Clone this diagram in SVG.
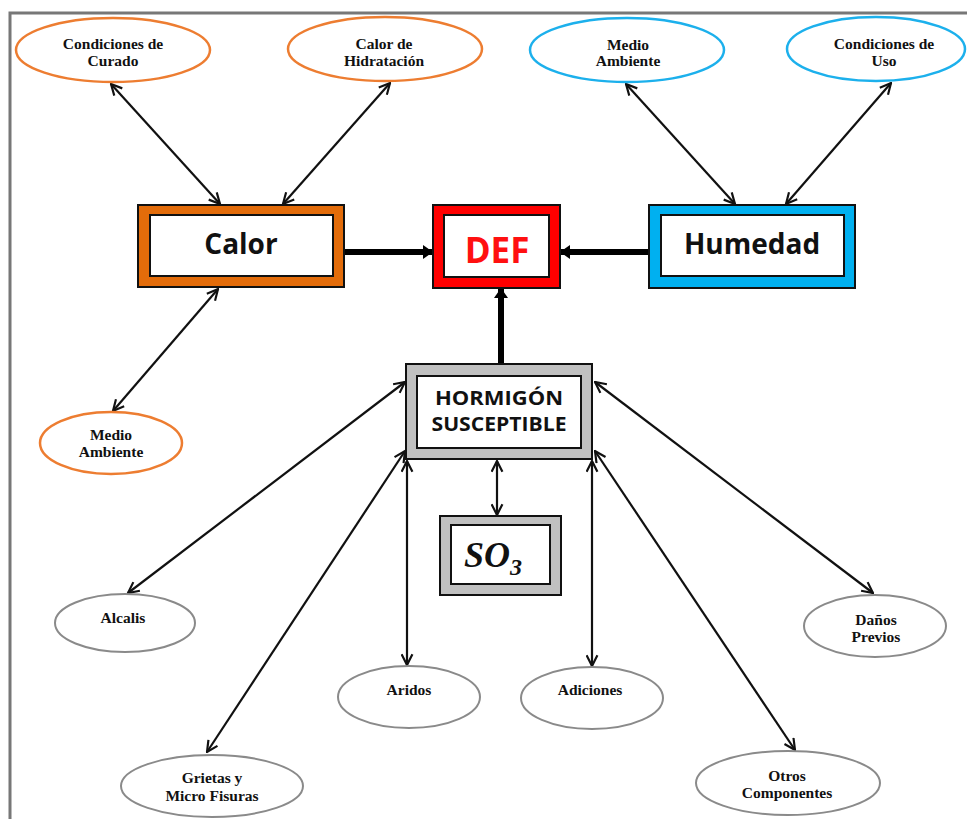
<svg xmlns="http://www.w3.org/2000/svg" width="967" height="819" viewBox="0 0 967 819">
<defs>
<style>
.el{fill:#fff;stroke-width:2.5}
.or{stroke:#ED7D31}
.bl{stroke:#1CB0EC}
.gr{stroke:#8a8a8a;stroke-width:2}
.et{font-family:"Liberation Serif","Times New Roman",serif;font-weight:bold;font-size:15.5px;fill:#111;text-anchor:middle}
.bt{font-family:"Open Sans","Liberation Sans",sans-serif;font-weight:bold;fill:#111;text-anchor:middle}
.bo{stroke:#111;stroke-width:2}
.inner{fill:#fff;stroke:#111;stroke-width:2}
.thin{stroke:#111;stroke-width:2.2;fill:none;marker-start:url(#ah);marker-end:url(#ah)}
.thick{stroke:#000;stroke-width:6;fill:none;marker-end:url(#th)}
</style>
<marker id="ah" viewBox="0 0 12 12" refX="11" refY="6" markerWidth="13" markerHeight="13" markerUnits="userSpaceOnUse" orient="auto-start-reverse">
<path d="M1,1 L11,6 L1,11" fill="none" stroke="#111" stroke-width="2"/>
</marker>
<marker id="th" viewBox="0 0 10 14" refX="9" refY="7" markerWidth="10" markerHeight="14" markerUnits="userSpaceOnUse" orient="auto">
<path d="M0,0 L10,7 L0,14 Z" fill="#000"/>
</marker>
</defs>
<rect width="967" height="819" fill="#fff"/>
<path d="M10,819 V13 H967" fill="none" stroke="#777" stroke-width="3"/>

<g id="connectors">
<line class="thin" x1="111" y1="84" x2="220" y2="204"/>
<line class="thin" x1="390" y1="83" x2="283" y2="204"/>
<line class="thin" x1="626" y1="84" x2="735" y2="204"/>
<line class="thin" x1="891" y1="83" x2="786" y2="204"/>
<line class="thin" x1="218" y1="289" x2="113" y2="411"/>
<line class="thick" x1="345" y1="252" x2="432" y2="252"/>
<line class="thick" x1="648" y1="252" x2="561" y2="252"/>
<line class="thick" x1="501" y1="363" x2="501" y2="289"/>
<line class="thin" x1="497" y1="461" x2="497" y2="515"/>
<line class="thin" x1="405" y1="382" x2="128" y2="593"/>
<line class="thin" x1="405" y1="451" x2="207" y2="752"/>
<line class="thin" x1="407" y1="461" x2="407" y2="665"/>
<line class="thin" x1="592" y1="461" x2="592" y2="666"/>
<line class="thin" x1="595" y1="382" x2="873" y2="593"/>
<line class="thin" x1="595" y1="451" x2="795" y2="750"/>
</g>

<g id="cond-curado">
<ellipse class="el or" cx="113" cy="50" rx="97" ry="32"/>
<text class="et" x="113" y="49">Condiciones de</text>
<text class="et" x="113" y="66">Curado</text>
</g>
<g id="calor-hidratacion">
<ellipse class="el or" cx="385" cy="49" rx="97" ry="32"/>
<text class="et" x="384" y="49">Calor de</text>
<text class="et" x="384" y="66">Hidratación</text>
</g>
<g id="medio-ambiente-h">
<ellipse class="el bl" cx="627" cy="50" rx="97" ry="32"/>
<text class="et" x="628" y="50">Medio</text>
<text class="et" x="628" y="66">Ambiente</text>
</g>
<g id="cond-uso">
<ellipse class="el bl" cx="876" cy="49" rx="89" ry="32"/>
<text class="et" x="884" y="49">Condiciones de</text>
<text class="et" x="884" y="66">Uso</text>
</g>

<g id="calor">
<rect class="bo" x="138" y="205" width="206" height="82" fill="#E36C0A"/>
<rect class="inner" x="150" y="215" width="183" height="61"/>
<text class="bt" x="241" y="254" font-size="28">Calor</text>
</g>
<g id="def">
<rect class="bo" x="433" y="205" width="127" height="83" fill="#FF0000"/>
<rect class="inner" x="444" y="215" width="105" height="62"/>
<text class="bt" x="497" y="263" font-size="35" style="fill:#FF1010">DEF</text>
</g>
<g id="humedad">
<rect class="bo" x="649" y="205" width="206" height="83" fill="#00B0F0"/>
<rect class="inner" x="661" y="215" width="183" height="61"/>
<text class="bt" x="752" y="254" font-size="28">Humedad</text>
</g>

<g id="medio-ambiente-c">
<ellipse class="el or" cx="111" cy="443" rx="71" ry="31"/>
<text class="et" x="111" y="440">Medio</text>
<text class="et" x="111" y="457">Ambiente</text>
</g>

<g id="hormigon">
<rect class="bo" x="406" y="364" width="186" height="95" fill="#C0C0C0"/>
<rect class="inner" x="417" y="376" width="164" height="72"/>
<text class="bt" x="499" y="405" font-size="19" textLength="128" lengthAdjust="spacingAndGlyphs">HORMIGÓN</text>
<text class="bt" x="499" y="431" font-size="19" textLength="135" lengthAdjust="spacingAndGlyphs">SUSCEPTIBLE</text>
</g>

<g id="so3">
<rect class="bo" x="440" y="516" width="121" height="79" fill="#C0C0C0"/>
<rect class="inner" x="451" y="525" width="99" height="59"/>
<text x="464" y="567" font-family="'Liberation Serif','DejaVu Serif',serif" font-style="italic" font-weight="bold" font-size="36" fill="#111">SO<tspan font-size="24" dy="8">3</tspan></text>
</g>

<g id="alcalis">
<ellipse class="el gr" cx="125" cy="623" rx="70" ry="29"/>
<text class="et" x="123" y="623">Alcalis</text>
</g>
<g id="aridos">
<ellipse class="el gr" cx="409" cy="697" rx="71" ry="31"/>
<text class="et" x="409" y="695">Aridos</text>
</g>
<g id="grietas">
<ellipse class="el gr" cx="212" cy="786" rx="91" ry="31"/>
<text class="et" x="212" y="783">Grietas y</text>
<text class="et" x="212" y="801">Micro Fisuras</text>
</g>
<g id="adiciones">
<ellipse class="el gr" cx="592" cy="698" rx="71" ry="31"/>
<text class="et" x="590" y="695">Adiciones</text>
</g>
<g id="danos">
<ellipse class="el gr" cx="875" cy="626" rx="71" ry="31"/>
<text class="et" x="876" y="625">Daños</text>
<text class="et" x="876" y="642">Previos</text>
</g>
<g id="otros">
<ellipse class="el gr" cx="788" cy="783" rx="92" ry="32"/>
<text class="et" x="787" y="781">Otros</text>
<text class="et" x="787" y="798">Componentes</text>
</g>
</svg>
